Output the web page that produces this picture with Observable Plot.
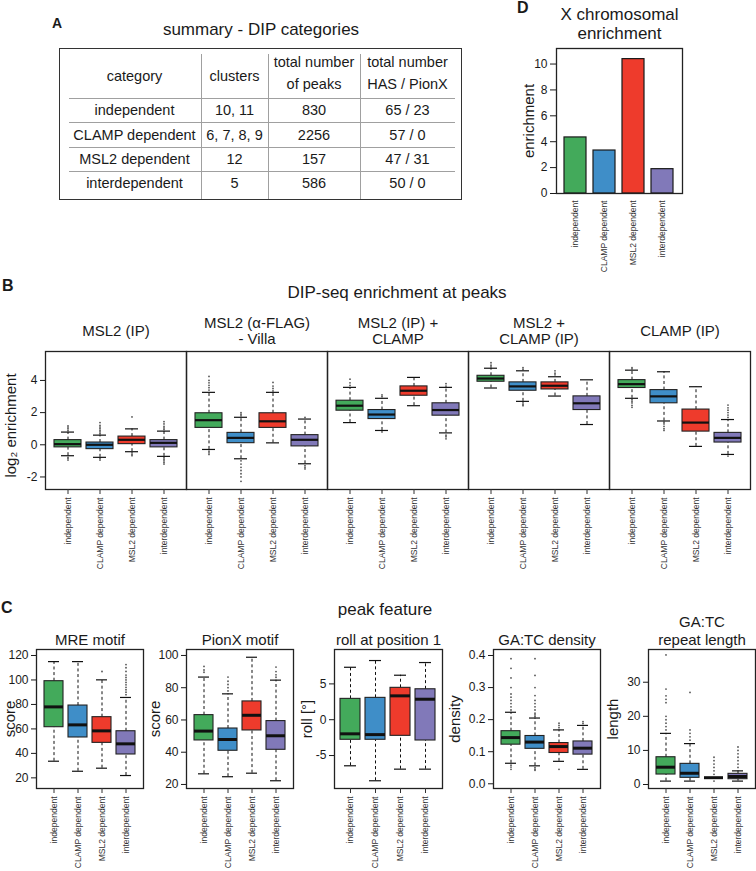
<!DOCTYPE html>
<html><head><meta charset="utf-8">
<script src="https://cdn.jsdelivr.net/npm/d3@7"></script>
<script src="https://cdn.jsdelivr.net/npm/@observablehq/plot@0.6"></script>
<style>
body{margin:0;background:#fff;font-family:"Liberation Sans",Arial,Helvetica,sans-serif;color:#1a1a1a;}
#root{position:relative;width:756px;height:871px;overflow:hidden;}
.abs{position:absolute;white-space:nowrap;}
.letter{font-weight:bold;}
#tbox{position:absolute;left:59px;top:48px;width:401px;height:150px;border:1.5px solid #333;}
#tbox table{position:absolute;left:8.5px;top:4.5px;border-collapse:collapse;table-layout:fixed;width:383px;font-size:14.5px;color:#1a1a1a;}
#tbox td{text-align:center;padding:0;white-space:nowrap;}
td.h{height:42px;line-height:22px;vertical-align:middle;border-bottom:1px solid #a0a0a0;}
td.v{border-left:1px solid #a0a0a0;}
td.b{height:23.5px;line-height:22px;vertical-align:middle;}
tr.sep td{border-bottom:1px solid #a0a0a0;}
tr.last td{height:26.5px;vertical-align:top;line-height:23px;}
</style>
</head><body><div id="root"></div>
<script>
// ---------- data ----------
const categories = ["independent", "CLAMP dependent", "MSL2 dependent", "interdependent"];
const categoryColors = ["#43aa5b", "#3f8ec8", "#ee3b2c", "#8179b9"];

// Panel A: summary table
const tableHeader = ["category", "clusters", "total number\nof peaks", "total number\nHAS / PionX"];
const tableClusters = ["10, 11", "6, 7, 8, 9", "12", "5"];
const tablePeaks = ["830", "2256", "157", "586"];
const tableHasPionX = ["65 / 23", "57 / 0", "47 / 31", "50 / 0"];

// Panel D: X chromosomal enrichment
const xEnrichment = [4.33, 3.32, 10.38, 1.88];
const dTicks = [0, 2, 4, 6, 8, 10];

// Panel B: DIP-seq enrichment at peaks (log2), one row per panel, columns = categories
const bPanels = ["MSL2 (IP)", "MSL2 (\u03b1-FLAG)\n- Villa", "MSL2 (IP) +\nCLAMP", "MSL2 +\nCLAMP (IP)", "CLAMP (IP)"];
const bTicks = [-2, 0, 2, 4];
const bLow = [
  [-0.68, -0.78, -0.43, -0.72],
  [-0.29, -0.87, 0.12, -1.18],
  [1.38, 0.89, 2.43, 0.74],
  [3.53, 2.70, 3.03, 1.26],
  [2.89, 1.48, -0.10, -0.60]];
const bQ1 = [
  [-0.16, -0.27, 0.04, -0.16],
  [1.05, 0.10, 1.05, -0.10],
  [2.12, 1.60, 3.05, 1.81],
  [3.92, 3.36, 3.44, 2.16],
  [3.53, 2.58, 0.82, 0.14]];
const bMed = [
  [0.04, 0.00, 0.31, 0.12],
  [1.53, 0.43, 1.46, 0.31],
  [2.43, 1.88, 3.36, 2.16],
  [4.12, 3.63, 3.67, 2.58],
  [3.77, 3.01, 1.38, 0.43]];
const bQ3 = [
  [0.29, 0.14, 0.51, 0.29],
  [1.96, 0.74, 1.96, 0.60],
  [2.74, 2.16, 3.63, 2.58],
  [4.29, 3.88, 3.88, 3.01],
  [4.02, 3.40, 2.19, 0.74]];
const bHigh = [
  [0.79, 0.60, 0.99, 0.85],
  [3.26, 1.71, 3.26, 1.60],
  [3.57, 2.89, 4.19, 3.57],
  [4.76, 4.60, 4.23, 4.04],
  [4.64, 4.54, 3.61, 1.57]];
const bOutliers = [
  [[0.9, 1.0, 1.1, 1.18, -0.78, -0.86, -0.95], [0.7, 0.8, 0.9, 1.0, 1.1, 1.2, 1.38, -0.86, -0.95], [1.73, -0.5, -0.6, -0.68], [0.95, 1.05, 1.15, 1.3, 1.44, -0.8, -0.9, -1.0, -1.1, -1.2]],
  [[3.4, 3.55, 3.7, 3.85, 4.0, 4.25, -0.4, -0.5, -0.6], [1.8, 1.9, 2.0, -1.0, -1.2, -1.4, -1.6, -1.8, -2.0, -2.27], [3.35, 3.5, 3.65, 3.88], [1.7, -1.3, -1.4, -1.5]],
  [[3.7, 3.85, 4.08], [3.0, 3.1, 0.8], [], [3.65, 3.8, 0.6, 0.5, 0.37]],
  [[4.85, 4.95, 5.1], [4.7, 4.8, 2.6, 2.5, 2.43], [4.35, 4.45, 4.6], []],
  [[4.72, 4.8, 2.8, 2.7, 2.6, 2.45, 2.33], [1.4, 1.3, 1.15, 1.0, 0.89], [], [1.7, 1.85, 2.0, 2.15, 2.3, 2.47, -0.7]]];

// Panel C: peak features, one row per feature
const cTitles = ["MRE motif", "PionX motif", "roll at position 1", "GA:TC density", "GA:TC\nrepeat length"];
const cYLabels = ["score", "score", "roll [\u00b0]", "density", "length"];
const cTicks = [[20, 40, 60, 80, 100, 120], [20, 40, 60, 80, 100], [-5, 0, 5], [0, 0.1, 0.2, 0.3, 0.4], [0, 10, 20, 30]];
const cLow = [
  [33.6, 25.4, 27.9, 21.9],
  [26.6, 24.8, 27.0, 22.3],
  [-6.43, -8.52, -6.9, -6.9],
  [0.064, 0.056, 0.070, 0.045],
  [1, 1, 2, 1]];
const cQ1 = [
  [61.4, 53.0, 48.6, 39.1],
  [47.3, 40.9, 53.5, 41.5],
  [-2.8, -2.8, -2.25, -2.9],
  [0.122, 0.109, 0.096, 0.091],
  [2.93, 1.96, 2, 1.56]];
const cMed = [
  [78.0, 63.3, 58.4, 47.8],
  [53.1, 47.9, 62.9, 50.2],
  [-1.97, -2.08, 3.33, 2.86],
  [0.144, 0.130, 0.116, 0.111],
  [5.08, 3.3, 2, 2.35]];
const cQ3 = [
  [99.0, 79.1, 69.6, 58.1],
  [63.0, 54.7, 71.5, 59.3],
  [2.91, 3.05, 4.45, 4.25],
  [0.164, 0.149, 0.127, 0.132],
  [8.0, 6.06, 2, 3.13]];
const cHigh = [
  [115, 115, 100.1, 85.7],
  [86.6, 76.2, 98.9, 84.7],
  [7.32, 8.26, 6.21, 7.98],
  [0.223, 0.205, 0.168, 0.182],
  [15, 12, 2, 4]];
const cOutliers = [
  [[], [], [106.9], [88, 90, 92, 94, 96, 98, 100, 102, 104, 107, 110, 112.6]],
  [[89.6, 91, 93.2], [78, 80, 82, 84, 86.6], [], [86.5, 88, 90, 92.8]],
  [[], [], [], []],
  [[0.23, 0.24, 0.25, 0.26, 0.27, 0.28, 0.30, 0.33, 0.36, 0.39, 0.058, 0.052, 0.045], [0.21, 0.215, 0.22, 0.23, 0.24, 0.25, 0.26, 0.275, 0.30, 0.338, 0.39, 0.05, 0.045, 0.042], [0.175, 0.182, 0.189, 0.045], [0.188, 0.194]],
  [[16, 17, 18, 19, 20, 24, 25, 26, 28, 38], [13, 14, 15, 16, 27], [1, 3, 4, 5, 6, 7, 8], [5, 6, 7, 8, 9, 10, 11]]];

// ---------- helpers ----------
const FONT = '"Liberation Sans", Arial, Helvetica, sans-serif';
const root = document.getElementById("root");
function place(node, left, top) {
  const w = document.createElement("div");
  w.className = "abs"; w.style.left = left + "px"; w.style.top = top + "px";
  w.appendChild(node); root.appendChild(w); return w;
}
function htmlText(txt, left, top, size, opts = {}) {
  const d = document.createElement("div");
  d.className = "abs" + (opts.bold ? " letter" : "");
  d.textContent = txt;
  Object.assign(d.style, {left: left + "px", top: top + "px", fontSize: size + "px", lineHeight: size + "px"});
  if (opts.width) { d.style.width = opts.width + "px"; d.style.textAlign = "center"; }
  root.appendChild(d);
}
const svgStyle = {fontFamily: FONT, overflow: "visible", background: "transparent", color: "#1a1a1a"};
const fmtPlain = d => `${d}`;
const yLabelOpts = {frameAnchor: "left", textAnchor: "middle", lineAnchor: "middle", rotate: -90, fontSize: 15, text: d => d};

function boxRows(lo, q1, md, q3, hi, extra = {}) {
  return categories.map((c, i) => ({category: c, low: lo[i], q1: q1[i], med: md[i], q3: q3[i], high: hi[i], ...extra}));
}
function outlierRows(outs, extra = {}) {
  return outs.flatMap((vals, i) => vals.map(v => ({category: categories[i], value: v, ...extra})));
}
function boxMarks(rows, outs, o) {
  const f = o.facet ? {fx: "panel"} : {};
  return [
    Plot.ruleX(rows, {...f, x: "category", y1: "q3", y2: "high", stroke: "#111", strokeWidth: 1, strokeDasharray: "3,2.6"}),
    Plot.ruleX(rows, {...f, x: "category", y1: "low", y2: "q1", stroke: "#111", strokeWidth: 1, strokeDasharray: "3,2.6"}),
    Plot.dot(outs, {...f, x: "category", y: "value", r: o.r, fill: "#555", stroke: "none"}),
    Plot.tickY(rows, {...f, x: "category", y: "high", stroke: "#111", strokeWidth: 1.2, insetLeft: o.cap, insetRight: o.cap}),
    Plot.tickY(rows, {...f, x: "category", y: "low", stroke: "#111", strokeWidth: 1.2, insetLeft: o.cap, insetRight: o.cap}),
    Plot.barY(rows, {...f, x: "category", y1: "q1", y2: "q3", fill: "category", stroke: "#222", strokeWidth: 1.1}),
    Plot.tickY(rows, {...f, x: "category", y: "med", stroke: "#111", strokeWidth: o.medW})
  ];
}

// ---------- Panel A ----------
htmlText("A", 52, 16, 14, {bold: true});
htmlText("summary - DIP categories", 59, 21, 17, {width: 404});
{
  const box = document.createElement("div"); box.id = "tbox"; root.appendChild(box);
  const t = document.createElement("table"); box.appendChild(t);
  const colW = [132, 66, 91, 94];
  const hr = t.insertRow();
  tableHeader.forEach((h, j) => {
    const td = hr.insertCell(); td.className = "h" + (j ? " v" : ""); td.style.width = colW[j] + "px";
    const d = document.createElement("div");
    const lines = h.split("\n");
    if (lines.length > 1) { d.style.position = "relative"; d.style.top = "-3px"; }
    lines.forEach((ln, k) => { if (k) d.appendChild(document.createElement("br")); d.appendChild(document.createTextNode(ln)); });
    td.appendChild(d);
  });
  categories.forEach((c, i) => {
    const r = t.insertRow(); r.className = i < categories.length - 1 ? "sep" : "last";
    [c, tableClusters[i], tablePeaks[i], tableHasPionX[i]].forEach((v, j) => {
      const td = r.insertCell(); td.className = "b" + (j ? " v" : ""); td.textContent = v;
    });
  });
}

// ---------- Panel D ----------
htmlText("D", 517, 0, 16, {bold: true});
{
  const dData = categories.map((c, i) => ({category: c, value: xEnrichment[i]}));
  const p = Plot.plot({
    width: 230, height: 273, marginTop: 48, marginBottom: 80, marginLeft: 76, marginRight: 28,
    style: svgStyle,
    x: {domain: categories, paddingInner: 0.235, paddingOuter: 0.265},
    y: {domain: [0, 11.2]},
    color: {domain: categories, range: categoryColors},
    marks: [
      Plot.barY(dData, {x: "category", y: "value", fill: "category", stroke: "#1a1a1a", strokeWidth: 1.2}),
      Plot.frame({stroke: "#222", strokeWidth: 1.3}),
      Plot.axisY({ticks: dTicks, tickFormat: fmtPlain, fontSize: 12, tickSize: 6, tickPadding: 3, label: null}),
      Plot.axisX({tickRotate: -90, fontSize: 8.5, tickSize: 0, tickPadding: 7, label: null, color: "#333"}),
      Plot.text(["X chromosomal\nenrichment"], {frameAnchor: "top", textAnchor: "middle", text: d => d, lineAnchor: "bottom", dy: -10, fontSize: 17, lineHeight: 1.08}),
      Plot.text(["enrichment"], {...yLabelOpts, dx: -27})
    ]
  });
  place(p, 480, 0);
}

// ---------- Panel B ----------
htmlText("B", 2, 278, 16, {bold: true});
htmlText("DIP-seq enrichment at peaks", 44, 284, 17, {width: 706});
{
  const rows = bPanels.flatMap((p, k) => boxRows(bLow[k], bQ1[k], bMed[k], bQ3[k], bHigh[k], {panel: p}));
  const outs = bPanels.flatMap((p, k) => outlierRows(bOutliers[k], {panel: p}));
  const p = Plot.plot({
    width: 756, height: 279, marginTop: 51, marginBottom: 90, marginLeft: 44, marginRight: 6,
    style: svgStyle,
    fx: {domain: bPanels, padding: 0, axis: null},
    x: {domain: categories, paddingInner: 0.167, paddingOuter: 0.26},
    y: {domain: [-2.78, 5.8]},
    color: {domain: categories, range: categoryColors},
    marks: [
      ...boxMarks(rows, outs, {facet: true, r: 0.9, cap: 7, medW: 2.2}),
      Plot.frame({stroke: "#222", strokeWidth: 1.3}),
      Plot.axisY({ticks: bTicks, tickFormat: fmtPlain, fontSize: 12, tickSize: 5, tickPadding: 3, label: null}),
      Plot.axisX({tickRotate: -90, fontSize: 8.5, tickSize: 5, tickPadding: 3, label: null, color: "#333"}),
      Plot.text(bPanels, {fx: d => d, text: d => d, frameAnchor: "top", textAnchor: "middle", lineAnchor: "middle", dy: -21, fontSize: 15, lineHeight: 1.08}),
      Plot.text(["log\u2082 enrichment"], {...yLabelOpts, fx: () => bPanels[0], dx: -34, dy: 5})
    ]
  });
  place(p, 0, 300);
}

// ---------- Panel C ----------
htmlText("C", 1, 600, 16, {bold: true});
htmlText("peak feature", 185, 601, 17, {width: 400});
{
  // layout of the five feature plots (svg left, width, margins, y-domain, y-label offset)
  const cLayout = [
    {left: 0, width: 150, mL: 36, mR: 7, domain: [11.3, 124.9], ldx: -26, fmt: fmtPlain},
    {left: 150, width: 150, mL: 36, mR: 7, domain: [17.5, 103.7], ldx: -31, fmt: fmtPlain},
    {left: 300, width: 150, mL: 34, mR: 8, domain: [-9.6, 9.8], ldx: -27, fmt: fmtPlain},
    {left: 450, width: 156, mL: 43, mR: 6, domain: [-0.0147, 0.4187], ldx: -38, fmt: d => d.toFixed(1)},
    {left: 606, width: 150, mL: 42, mR: 1, domain: [-1.17, 39.6], ldx: -35, fmt: fmtPlain}
  ];
  cLayout.forEach((L, k) => {
    const rows = boxRows(cLow[k], cQ1[k], cMed[k], cQ3[k], cHigh[k]);
    const outs = outlierRows(cOutliers[k]);
    const p = Plot.plot({
      width: L.width, height: 271, marginTop: 49, marginBottom: 83, marginLeft: L.mL, marginRight: L.mR,
      style: svgStyle,
      x: {domain: categories, paddingInner: 0.19, paddingOuter: 0.25},
      y: {domain: L.domain},
      color: {domain: categories, range: categoryColors},
      marks: [
        ...boxMarks(rows, outs, {facet: false, r: 0.9, cap: 4, medW: 3}),
        Plot.frame({stroke: "#222", strokeWidth: 1.3}),
        Plot.axisY({ticks: cTicks[k], tickFormat: L.fmt, fontSize: 12, tickSize: 5, tickPadding: 3, label: null}),
        Plot.axisX({tickRotate: -90, fontSize: 8.5, tickSize: 5, tickPadding: 3, label: null, color: "#333"}),
        Plot.text([cTitles[k]], {frameAnchor: "top", textAnchor: "middle", text: d => d, lineAnchor: "bottom", dy: -5, fontSize: 15, lineHeight: 1.2}),
        Plot.text([cYLabels[k]], {...yLabelOpts, dx: L.ldx})
      ]
    });
    place(p, L.left, 600);
  });
}
</script></body></html>
